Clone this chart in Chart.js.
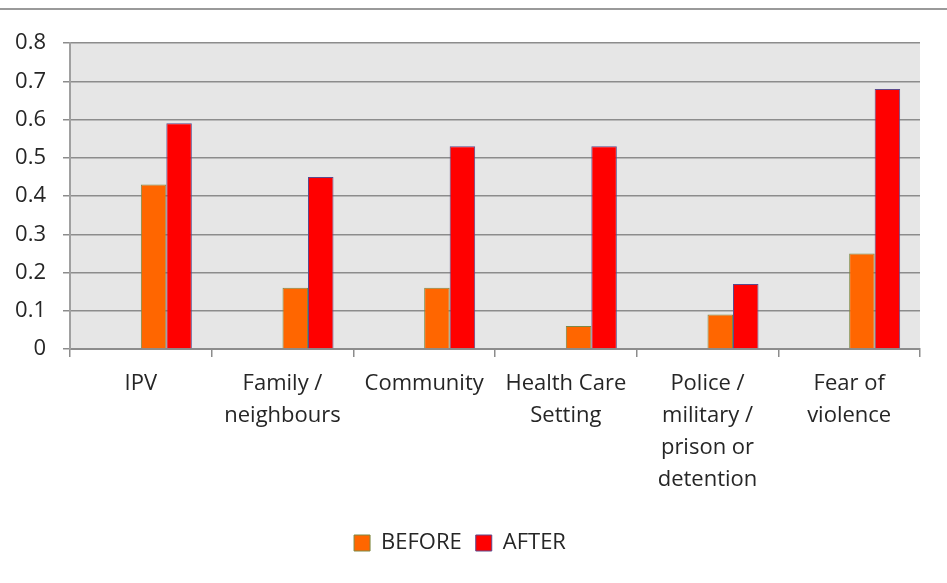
<!DOCTYPE html>
<html>
<head>
<meta charset="utf-8">
<style>
  html, body { margin: 0; padding: 0; background: #fff; }
  #wrap { width: 947px; height: 583px; position: relative; }
</style>
<script src="https://cdn.jsdelivr.net/npm/chart.js@4"></script>
</head>
<body>
<div id="wrap"><canvas id="chart"></canvas></div>
<script>
// 分類與數值
const categories = [
  'IPV',
  ['Family /', 'neighbours'],
  'Community',
  ['Health Care', 'Setting'],
  ['Police /', 'military /', 'prison or', 'detention'],
  ['Fear of', 'violence']
];
const beforeValues = [0.43, 0.16, 0.16, 0.06, 0.09, 0.25];
const afterValues = [0.59, 0.45, 0.53, 0.53, 0.17, 0.68];
const yTicks = [0, 0.1, 0.2, 0.3, 0.4, 0.5, 0.6, 0.7, 0.8];

// 空白系列 (原圖的長條偏右，前面有兩個空位)
const emptyValues = categories.map(() => null);

const FONT = "'Open Sans', 'DejaVu Sans', sans-serif";

// 繪圖區背景與頂部線條
const backgroundPlugin = {
  id: 'plotBg',
  beforeDraw(chart) {
    const { ctx, chartArea } = chart;
    ctx.save();
    ctx.fillStyle = '#e6e6e6';
    ctx.fillRect(chartArea.left, chartArea.top,
      chartArea.right - chartArea.left, chartArea.bottom - chartArea.top);
    ctx.strokeStyle = '#9a9a9a';
    ctx.lineWidth = 2;
    ctx.beginPath();
    ctx.moveTo(0, 9);
    ctx.lineTo(chart.width, 9);
    ctx.stroke();
    ctx.restore();
  }
};

new Chart(document.getElementById('chart'), {
  type: 'bar',
  data: {
    labels: categories,
    datasets: [
      { label: '', data: emptyValues },
      { label: '', data: emptyValues },
      {
        label: 'BEFORE',
        data: beforeValues,
        backgroundColor: '#ff6600',
        borderColor: '#7d8a45',
        borderWidth: 1
      },
      {
        label: 'AFTER',
        data: afterValues,
        backgroundColor: '#ff0000',
        borderColor: '#5c4a8c',
        borderWidth: 1
      }
    ]
  },
  options: {
    responsive: true,
    maintainAspectRatio: false,
    animation: false,
    categoryPercentage: 0.72,
    barPercentage: 1,
    layout: {
      padding: { top: 43, right: 27, left: 0, bottom: 19 }
    },
    plugins: {
      legend: {
        position: 'bottom',
        labels: {
          filter: item => item.text !== '',
          boxWidth: 16,
          boxHeight: 16,
          padding: 14,
          color: '#262626',
          font: { family: FONT, size: 22 }
        }
      },
      tooltip: { enabled: false }
    },
    scales: {
      x: {
        grid: {
          offset: true,
          drawOnChartArea: false,
          drawTicks: true,
          tickLength: 8,
          color: '#8c8c8c',
          lineWidth: 1.5
        },
        border: { color: '#8c8c8c', width: 2 },
        ticks: {
          color: '#262626',
          padding: 11,
          maxRotation: 0,
          autoSkip: false,
          font: { family: FONT, size: 22, lineHeight: 1.45 }
        },
        afterFit(scale) { scale.height = 169; }
      },
      y: {
        min: 0,
        max: 0.8,
        afterBuildTicks(scale) {
          scale.ticks = yTicks.map(v => ({ value: v }));
        },
        grid: {
          color: '#8c8c8c',
          lineWidth: 1.5,
          tickLength: 7
        },
        border: { color: '#a0a0a0', width: 2 },
        ticks: {
          color: '#262626',
          padding: 17,
          font: { family: FONT, size: 22 },
          callback: v => String(v)
        },
        afterFit(scale) { scale.width = 70; }
      }
    }
  },
  plugins: [backgroundPlugin]
});
</script>
</body>
</html>
